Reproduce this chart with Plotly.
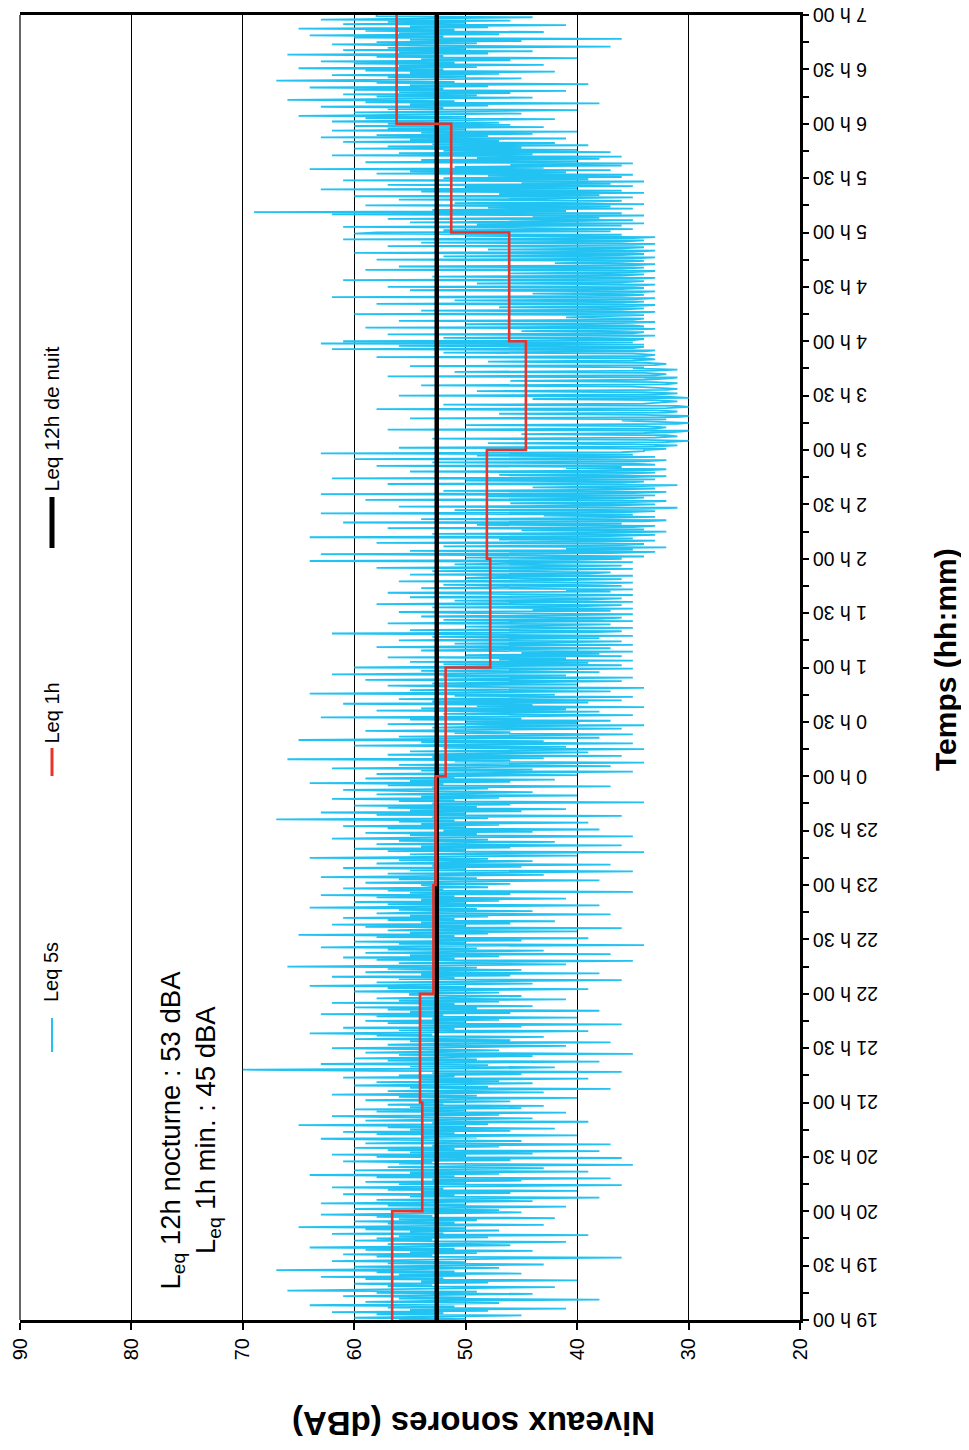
import plotly.graph_objects as go

# ---------------- data ----------------
# Leq 5s readings (dBA), one list per hour, starting at 19 h 00
leq5s_h19 = [56, 50, 60, 53, 45, 58, 52, 62, 48, 55, 41, 57, 51, 64, 54, 47, 59, 52, 38, 56,
             50, 61, 53, 44, 58, 49, 66, 55, 51, 42, 57, 53, 60, 48, 54, 40, 59, 52, 63, 50,
             56, 45, 58, 51, 67, 54, 47, 60, 52, 43, 57, 50, 62, 55, 48, 36, 58, 53, 61, 49,
             55, 44, 59, 51, 64, 54, 46, 57, 50, 41, 60, 53, 58, 48, 56, 39, 62, 52, 55, 47,
             59, 50, 65, 54, 43, 57, 51, 60, 49, 56, 42, 58, 53, 63, 50, 45]
leq5s_h20 = [55, 47, 60, 52, 41, 57, 50, 63, 53, 44, 58, 49, 38, 55, 51, 61, 46, 54, 40, 57,
             52, 62, 48, 36, 56, 50, 59, 45, 53, 37, 58, 51, 64, 47, 55, 39, 60, 52, 43, 57,
             49, 35, 56, 53, 61, 46, 54, 36, 58, 50, 62, 44, 55, 38, 57, 51, 60, 47, 53, 37,
             59, 52, 45, 56, 63, 49, 54, 40, 58, 51, 61, 46, 55, 42, 57, 50, 65, 48, 53, 39,
             59, 52, 44, 56, 62, 47, 54, 41, 58, 50, 60, 45, 55, 43, 57, 52]
leq5s_h21 = [54, 46, 59, 51, 40, 56, 49, 62, 53, 43, 57, 50, 37, 55, 48, 60, 52, 44, 58, 47,
             54, 39, 61, 51, 56, 45, 53, 36, 58, 70, 50, 42, 55, 48, 63, 52, 38, 57, 49, 60,
             53, 44, 56, 35, 59, 51, 47, 54, 62, 49, 41, 57, 52, 37, 55, 46, 60, 50, 43, 58,
             53, 64, 48, 39, 56, 51, 61, 45, 54, 36, 57, 50, 59, 47, 53, 40, 58, 52, 63, 46,
             55, 38, 57, 49, 60, 44, 54, 51, 62, 47, 56, 41, 58, 52, 45, 55]
leq5s_h22 = [55, 47, 60, 52, 39, 57, 50, 64, 53, 44, 58, 48, 36, 56, 51, 62, 46, 54, 38, 59,
             52, 45, 57, 49, 66, 53, 41, 56, 50, 35, 58, 51, 61, 47, 55, 37, 59, 52, 43, 57,
             49, 63, 54, 34, 56, 50, 60, 45, 53, 39, 58, 51, 65, 48, 55, 40, 57, 52, 36, 59,
             50, 62, 46, 54, 42, 57, 51, 61, 48, 55, 37, 58, 53, 44, 56, 49, 64, 52, 38, 57,
             50, 60, 47, 54, 41, 58, 51, 63, 46, 55, 35, 57, 52, 61, 48, 53]
leq5s_h23 = [54, 46, 59, 51, 38, 56, 49, 63, 52, 43, 57, 48, 35, 55, 50, 61, 45, 53, 37, 58,
             51, 44, 56, 48, 64, 52, 40, 55, 49, 34, 57, 50, 60, 46, 54, 36, 58, 51, 42, 56,
             48, 62, 53, 35, 55, 49, 59, 44, 52, 38, 57, 50, 61, 47, 54, 39, 56, 51, 67, 48,
             53, 36, 58, 50, 63, 45, 55, 41, 57, 49, 60, 46, 53, 34, 56, 51, 62, 47, 54, 40,
             58, 50, 44, 55, 61, 48, 53, 37, 57, 52, 64, 46, 55, 42, 59, 51]
leq5s_h00 = [52, 40, 58, 47, 35, 54, 44, 62, 49, 37, 56, 42, 34, 51, 46, 66, 43, 53, 36, 57,
             48, 39, 55, 45, 34, 52, 41, 60, 47, 35, 54, 43, 65, 49, 38, 56, 44, 35, 51, 46,
             59, 42, 36, 53, 48, 34, 57, 40, 50, 37, 55, 45, 63, 43, 35, 52, 47, 38, 58, 41,
             54, 34, 49, 44, 61, 39, 53, 36, 56, 46, 35, 51, 42, 64, 48, 37, 55, 43, 34, 50,
             57, 40, 53, 45, 36, 59, 47, 35, 52, 41, 62, 49, 38, 54, 44, 35]
leq5s_h01 = [60, 44, 36, 52, 39, 55, 35, 47, 41, 57, 36, 50, 38, 45, 35, 54, 42, 37, 58, 46,
             35, 51, 40, 36, 56, 43, 38, 53, 35, 48, 62, 39, 36, 55, 44, 35, 50, 41, 37, 57,
             45, 35, 52, 38, 36, 54, 42, 35, 49, 56, 37, 44, 35, 53, 40, 36, 58, 46, 35, 51,
             39, 36, 55, 43, 35, 48, 57, 37, 41, 35, 54, 45, 36, 52, 38, 35, 56, 42, 36, 50,
             47, 35, 55, 39, 37, 53, 44, 35, 58, 41, 36, 51, 46, 35, 64, 40]
leq5s_h02 = [36, 50, 34, 44, 63, 37, 33, 55, 35, 41, 32, 52, 36, 34, 58, 38, 33, 47, 35, 64,
             37, 33, 53, 36, 32, 45, 34, 57, 35, 33, 49, 36, 61, 34, 32, 54, 37, 33, 43, 35,
             63, 36, 33, 51, 34, 31, 56, 37, 33, 46, 35, 32, 59, 36, 34, 48, 33, 63, 35, 32,
             52, 37, 33, 44, 35, 31, 57, 36, 34, 50, 33, 62, 35, 32, 47, 36, 33, 55, 34, 32,
             41, 36, 58, 33, 35, 53, 34, 32, 60, 37, 33, 49, 35, 63, 36, 34]
leq5s_h03 = [34, 32, 56, 33, 31, 35, 48, 32, 30, 34, 53, 33, 31, 32, 45, 34, 31, 30, 57, 33,
             32, 34, 50, 31, 30, 33, 36, 32, 55, 31, 30, 34, 47, 32, 31, 33, 58, 32, 30, 31,
             52, 34, 32, 31, 33, 44, 30, 32, 56, 33, 31, 34, 49, 32, 31, 33, 35, 54, 32, 31,
             33, 46, 34, 32, 31, 57, 33, 32, 34, 51, 33, 31, 35, 34, 55, 33, 32, 34, 48, 35,
             33, 34, 58, 34, 33, 35, 52, 34, 33, 62, 35, 34, 56, 34, 63, 35]
leq5s_h04 = [61, 35, 34, 52, 36, 33, 57, 35, 34, 45, 36, 33, 59, 34, 35, 50, 36, 33, 56, 35,
             34, 41, 36, 34, 60, 35, 33, 54, 36, 34, 47, 35, 33, 58, 36, 34, 51, 35, 33, 62,
             36, 34, 44, 35, 33, 55, 36, 34, 57, 35, 33, 49, 36, 34, 61, 35, 33, 53, 36, 34,
             46, 35, 33, 59, 36, 34, 56, 35, 33, 42, 36, 34, 58, 35, 33, 52, 36, 34, 60, 35,
             33, 48, 36, 34, 57, 35, 33, 54, 36, 34, 61, 35, 33, 50, 36, 60]
leq5s_h05 = [58, 37, 52, 35, 46, 61, 36, 49, 34, 55, 40, 35, 57, 38, 44, 34, 62, 36, 69, 41,
             53, 35, 48, 37, 59, 34, 51, 39, 36, 56, 43, 35, 60, 38, 47, 34, 54, 36, 63, 40,
             50, 35, 57, 37, 45, 34, 61, 39, 52, 36, 48, 35, 58, 41, 55, 37, 64, 43, 51, 36,
             46, 35, 59, 40, 54, 38, 49, 36, 62, 44, 56, 37, 52, 40, 60, 45, 57, 39, 53, 42,
             61, 47, 55, 41, 63, 48, 58, 44, 54, 40, 62, 50, 57, 43, 60, 46]
leq5s_h06 = [57, 47, 62, 52, 42, 59, 50, 65, 54, 45, 60, 49, 40, 57, 52, 63, 48, 55, 38, 59,
             51, 66, 53, 44, 58, 49, 61, 46, 56, 41, 60, 52, 64, 48, 55, 39, 58, 51, 67, 53,
             45, 57, 50, 62, 47, 55, 42, 59, 52, 65, 49, 56, 43, 60, 51, 63, 46, 54, 40, 58,
             52, 66, 48, 56, 44, 61, 50, 57, 37, 54, 62, 49, 58, 45, 55, 36, 60, 52, 64, 47,
             56, 43, 59, 51, 65, 48, 55, 41, 61, 50, 57, 46, 63, 53, 44, 58]

# Leq 1h (dBA), one value per hour from 19 h 00 to 6 h 00
leq1h = [56.6, 53.9, 54.1, 52.9, 52.7, 51.8, 47.8, 48.1, 44.6, 46.1, 51.3, 56.2]
# Leq 12h de nuit (dBA)
leq12h = 52.6

# tick values / labels
time_ticks = [i * 0.5 for i in range(25)]
time_labels = ["19 h 00", "19 h 30", "20 h 00", "20 h 30", "21 h 00", "21 h 30", "22 h 00", "22 h 30",
               "23 h 00", "23 h 30", "0 h 00", "0 h 30", "1 h 00", "1 h 30", "2 h 00", "2 h 30",
               "3 h 00", "3 h 30", "4 h 00", "4 h 30", "5 h 00", "5 h 30", "6 h 00", "6 h 30", "7 h 00"]
level_ticks = [20, 30, 40, 50, 60, 70, 80, 90]

# ---------------- build ----------------
hours = [leq5s_h19, leq5s_h20, leq5s_h21, leq5s_h22, leq5s_h23, leq5s_h00,
         leq5s_h01, leq5s_h02, leq5s_h03, leq5s_h04, leq5s_h05, leq5s_h06]
lv, tt = [], []
for k, h in enumerate(hours):
    m = len(h)
    for j, v in enumerate(h):
        lv.append(v)
        tt.append(k + j / m)
lv.append(hours[-1][-1])
tt.append(12.0)

red_x = leq1h + [leq1h[-1]]
red_y = list(range(len(leq1h))) + [len(leq1h)]

BLUE = "#22C3F2"
RED = "#E8322A"
FONT = "Liberation Sans, Arial, sans-serif"

fig = go.Figure()
fig.add_trace(go.Scatter(x=lv, y=tt, mode="lines", line=dict(color=BLUE, width=1.8),
                         showlegend=False, hoverinfo="skip"))
fig.add_trace(go.Scatter(x=[leq12h, leq12h], y=[0, 12], mode="lines",
                         line=dict(color="black", width=4.5), showlegend=False))
fig.add_trace(go.Scatter(x=red_x, y=red_y, mode="lines", line=dict(color=RED, width=2.6, shape="vh"),
                         showlegend=False))

# page geometry (the page body adds an 8 px margin around the figure)
OFF = 8
W, H = 969 - OFF, 1450 - OFF
L, R, T, B = 20, 800, 15, 1320      # plot area in page pixels


def px(x):
    return (x - L) / (R - L)


def py(y):
    return (B - y) / (B - T)


shapes = [
    dict(type="line", xref="paper", yref="paper", x0=0, x1=0, y0=0, y1=1,
         line=dict(color="#333", width=1.5), layer="below"),
    dict(type="line", xref="paper", yref="paper", x0=px(52), x1=px(52), y0=py(1052), y1=py(1018),
         line=dict(color=BLUE, width=2)),
    dict(type="line", xref="paper", yref="paper", x0=px(52), x1=px(52), y0=py(776), y1=py(748),
         line=dict(color=RED, width=3)),
    dict(type="line", xref="paper", yref="paper", x0=px(52), x1=px(52), y0=py(548), y1=py(497),
         line=dict(color="black", width=5)),
]

ann = []


def txt(text, x, y, size, angle, xanchor="center", yanchor="middle", bold=False):
    ann.append(dict(text=("<b>%s</b>" % text) if bold else text, xref="paper", yref="paper",
                    x=px(x), y=py(y), xanchor=xanchor, yanchor=yanchor, showarrow=False,
                    textangle=angle, font=dict(family=FONT, size=size, color="black")))


txt("Leq 5s", 51, 1004, 20, -90, yanchor="bottom")
txt("Leq 1h", 51, 746, 20, -90, yanchor="bottom")
txt("Leq 12h de nuit", 51, 494, 21, -90, yanchor="bottom")
txt("L<sub>eq</sub> 12h nocturne : 53 dBA", 172, 1292, 27.5, -90, yanchor="bottom")
txt("L<sub>eq</sub> 1h min. : 45 dBA", 207, 1256, 27.5, -90, yanchor="bottom")
txt("Niveaux sonores (dBA)", 474, 1423, 33, 180, bold=True)
txt("Temps (hh:mm)", 946, 660, 30, -90, bold=True)

# time tick labels, drawn upside down next to the right axis
for tv, tl in zip(time_ticks, time_labels):
    ann.append(dict(text=tl, xref="paper", yref="y", x=px(811), y=tv, xanchor="left",
                    yanchor="middle", showarrow=False, textangle=180,
                    font=dict(family=FONT, size=19.5, color="black")))

fig.update_layout(
    width=W, height=H,
    margin=dict(l=L - OFF, r=W - (R - OFF), t=T - OFF, b=H - (B - OFF), autoexpand=False),
    paper_bgcolor="white", plot_bgcolor="white",
    font=dict(family=FONT, size=20, color="black"),
    shapes=shapes, annotations=ann,
    xaxis=dict(range=[90, 20], tickvals=level_ticks, tickangle=-90,
               showgrid=True, gridcolor="black", gridwidth=1.3, zeroline=False,
               showline=True, linecolor="black", linewidth=3, mirror=True,
               ticks="outside", ticklen=7, tickwidth=2, tickcolor="black",
               layer="below traces", tickfont=dict(size=20)),
    yaxis=dict(range=[0, 12], side="right", tickvals=time_ticks, showticklabels=False,
               showgrid=False, zeroline=False,
               showline=True, linecolor="black", linewidth=3,
               ticks="outside", ticklen=6, tickwidth=2, tickcolor="black",
               minor=dict(dtick=0.25, ticks="outside", ticklen=6, tickwidth=2, tickcolor="black"),
               layer="below traces"),
)

fig.write_html("out.html")
